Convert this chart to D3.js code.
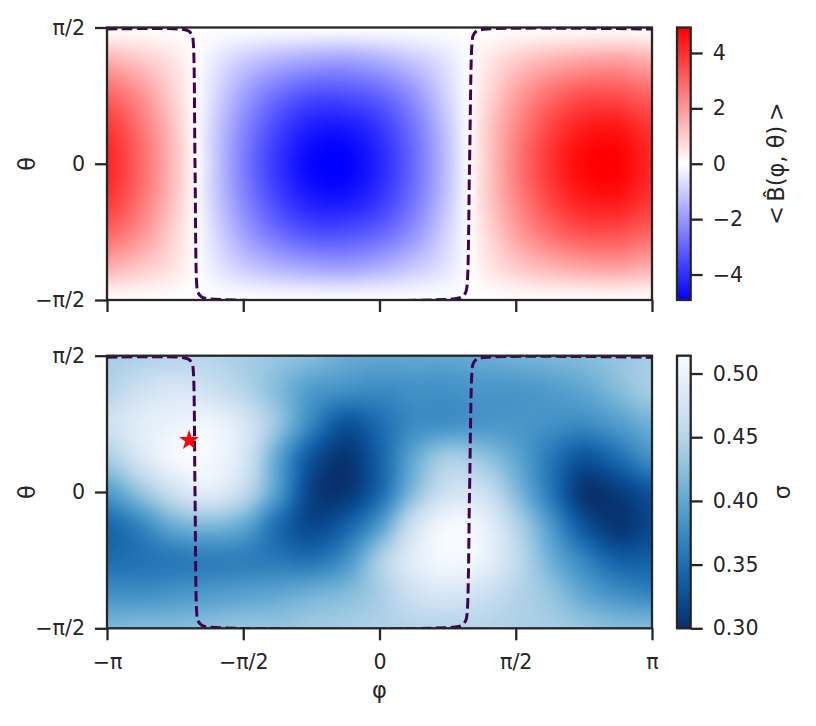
<!DOCTYPE html>
<html>
<head>
<meta charset="utf-8">
<script src="https://cdn.jsdelivr.net/npm/d3@7"></script>
<style>
  body { margin: 0; background: #fff; }
  svg text { font-family: "DejaVu Sans", sans-serif; fill: #262626; }
</style>
</head>
<body>
<script>
// grid of the two maps (degrees), columns = phi, rows = theta (top to bottom)
const phiDeg = [-180, -157.5, -135, -112.5, -90, -67.5, -45, -22.5, 0, 22.5, 45, 67.5, 90, 112.5, 135, 157.5, 180];
const thetaDeg = [90, 67.5, 45, 22.5, 0, -22.5, -45, -67.5, -90];

// <B(phi, theta)>
const bField = [
  [0.0, 0.0, 0.0, 0.0, 0.0, 0.0, 0.0, 0.0, 0.0, 0.0, 0.0, 0.0, 0.0, 0.0, 0.0, 0.0, 0.0],
  [1.6, 1.1, 0.5, -0.3, -1.0, -1.5, -1.8, -1.9, -1.6, -1.1, -0.5, 0.3, 1.0, 1.5, 1.8, 1.9, 1.6],
  [3.0, 2.1, 0.8, -0.5, -1.8, -2.8, -3.4, -3.4, -3.0, -2.1, -0.8, 0.5, 1.8, 2.8, 3.4, 3.4, 3.0],
  [3.9, 2.7, 1.1, -0.7, -2.3, -3.6, -4.4, -4.5, -3.9, -2.7, -1.1, 0.7, 2.3, 3.6, 4.4, 4.5, 3.9],
  [4.2, 2.9, 1.2, -0.7, -2.5, -3.9, -4.8, -4.9, -4.2, -2.9, -1.2, 0.7, 2.5, 3.9, 4.8, 4.9, 4.2],
  [3.9, 2.7, 1.1, -0.7, -2.3, -3.6, -4.4, -4.5, -3.9, -2.7, -1.1, 0.7, 2.3, 3.6, 4.4, 4.5, 3.9],
  [3.0, 2.1, 0.8, -0.5, -1.8, -2.8, -3.4, -3.4, -3.0, -2.1, -0.8, 0.5, 1.8, 2.8, 3.4, 3.4, 3.0],
  [1.6, 1.1, 0.5, -0.3, -1.0, -1.5, -1.8, -1.9, -1.6, -1.1, -0.5, 0.3, 1.0, 1.5, 1.8, 1.9, 1.6],
  [0.0, 0.0, 0.0, 0.0, 0.0, 0.0, 0.0, 0.0, 0.0, 0.0, 0.0, 0.0, 0.0, 0.0, 0.0, 0.0, 0.0]
];

// sigma
const sigmaField = [
  [0.44, 0.445, 0.45, 0.45, 0.44, 0.43, 0.42, 0.405, 0.40, 0.40, 0.40, 0.405, 0.41, 0.415, 0.42, 0.43, 0.44],
  [0.45, 0.47, 0.48, 0.47, 0.45, 0.42, 0.39, 0.38, 0.375, 0.38, 0.38, 0.385, 0.385, 0.39, 0.40, 0.42, 0.44],
  [0.47, 0.49, 0.50, 0.505, 0.48, 0.43, 0.37, 0.33, 0.35, 0.375, 0.38, 0.385, 0.385, 0.38, 0.375, 0.39, 0.41],
  [0.44, 0.48, 0.51, 0.51, 0.48, 0.40, 0.33, 0.305, 0.34, 0.40, 0.44, 0.43, 0.40, 0.36, 0.33, 0.35, 0.38],
  [0.39, 0.43, 0.47, 0.49, 0.46, 0.39, 0.315, 0.305, 0.345, 0.42, 0.47, 0.47, 0.42, 0.36, 0.305, 0.31, 0.33],
  [0.345, 0.37, 0.405, 0.415, 0.40, 0.35, 0.32, 0.34, 0.39, 0.47, 0.51, 0.50, 0.45, 0.39, 0.33, 0.305, 0.32],
  [0.35, 0.355, 0.36, 0.365, 0.365, 0.36, 0.355, 0.38, 0.44, 0.49, 0.51, 0.50, 0.46, 0.41, 0.37, 0.34, 0.34],
  [0.38, 0.38, 0.385, 0.39, 0.395, 0.40, 0.41, 0.42, 0.44, 0.47, 0.48, 0.47, 0.45, 0.43, 0.40, 0.38, 0.37],
  [0.415, 0.42, 0.42, 0.425, 0.43, 0.43, 0.435, 0.44, 0.445, 0.45, 0.45, 0.45, 0.445, 0.44, 0.43, 0.42, 0.42]
];

// zero contour of <B> (dashed), phi / theta in radians
const contourPhi = [-3.1416, -2.28, -2.20, -2.16, -2.147, -2.127, -2.107, -2.095, -2.05, -1.97,
  0.87, 0.95, 0.995, 1.01, 1.038, 1.067, 1.08, 1.12, 1.205, 3.1416];
const contourTheta = [1.553, 1.551, 1.53, 1.48, 1.40, 0, -1.40, -1.48, -1.535, -1.556,
  -1.556, -1.535, -1.48, -1.40, 0, 1.40, 1.48, 1.53, 1.551, 1.553];

const starPhi = -2.195;
const starTheta = 0.595;

const xTickVals = [-Math.PI, -Math.PI / 2, 0, Math.PI / 2, Math.PI];
const xTickLabels = ["−π", "−π/2", "0", "π/2", "π"];
const yTickVals = [-Math.PI / 2, 0, Math.PI / 2];
const yTickLabels = ["−π/2", "0", "π/2"];
const bTicks = [-4, -2, 0, 2, 4];
const sigmaTicks = [0.30, 0.35, 0.40, 0.45, 0.50];
const bLimit = 4.92;
const sigmaRange = [0.300, 0.514];

const W = 816, H = 726;
const left = 107, right = 652;
const panels = [
  { top: 27.5, bottom: 300, field: bField, label: "<\u2009B\u0302(φ, θ)\u2009>", labelX: 784,
    ticks: bTicks, fmt: d => d < 0 ? "−" + Math.abs(d) : "" + d,
    color: d3.scaleLinear().domain([-bLimit, 0, bLimit]).range(["#0000ff", "#ffffff", "#ff0000"]).clamp(true),
    domain: [-bLimit, bLimit], xLabels: false },
  { top: 355.7, bottom: 628.3, field: sigmaField, label: "σ", labelX: 790,
    ticks: sigmaTicks, fmt: d3.format(".2f"),
    color: d3.scaleSequential(t => d3.interpolateBlues(1 - t)).domain(sigmaRange).clamp(true),
    domain: sigmaRange, xLabels: true }
];

const rad = d => d * Math.PI / 180;
const phiRad = phiDeg.map(rad);
const thetaRad = thetaDeg.map(rad);

const svg = d3.select("body").append("svg")
  .attr("width", W).attr("height", H);

function cubic(p0, p1, p2, p3, t) {
  return p1 + 0.5 * t * (p2 - p0 + t * (2 * p0 - 5 * p1 + 4 * p2 - p3 + t * (3 * (p1 - p2) + p3 - p0)));
}

// bicubic lookup in a value grid, fc / fr are fractional column / row indices
function sample(field, fc, fr) {
  const nr = field.length, nc = field[0].length;
  const c = Math.min(Math.floor(fc), nc - 2), r = Math.min(Math.floor(fr), nr - 2);
  const tx = fc - c, ty = fr - r;
  const get = (i, j) => field[Math.max(0, Math.min(nr - 1, i))][Math.max(0, Math.min(nc - 1, j))];
  const rows = [-1, 0, 1, 2].map(dr =>
    cubic(get(r + dr, c - 1), get(r + dr, c), get(r + dr, c + 1), get(r + dr, c + 2), tx));
  return cubic(rows[0], rows[1], rows[2], rows[3], ty);
}

panels.forEach((p, k) => {
  const pw = right - left, ph = p.bottom - p.top;
  const x = d3.scaleLinear().domain([-Math.PI, Math.PI]).range([0, pw]);
  const y = d3.scaleLinear().domain([-Math.PI / 2, Math.PI / 2]).range([ph, 0]);
  const col = d3.scaleLinear().domain(d3.extent(phiRad)).range([0, phiRad.length - 1]);
  const row = d3.scaleLinear().domain([thetaRad[0], thetaRad[thetaRad.length - 1]]).range([0, thetaRad.length - 1]);

  const g = svg.append("g").attr("transform", `translate(${left},${p.top})`);

  // heat map
  const cw = Math.round(pw), chh = Math.round(ph);
  const canvas = document.createElement("canvas");
  canvas.width = cw; canvas.height = chh;
  const ctx = canvas.getContext("2d");
  const img = ctx.createImageData(cw, chh);
  for (let py = 0; py < chh; py++) {
    const fr = row(y.invert((py + 0.5) * ph / chh));
    for (let px = 0; px < cw; px++) {
      const fc = col(x.invert((px + 0.5) * pw / cw));
      const c = d3.rgb(p.color(sample(p.field, fc, fr)));
      const o = 4 * (py * cw + px);
      img.data[o] = c.r; img.data[o + 1] = c.g; img.data[o + 2] = c.b; img.data[o + 3] = 255;
    }
  }
  ctx.putImageData(img, 0, 0);
  g.append("image")
    .attr("width", pw).attr("height", ph)
    .attr("preserveAspectRatio", "none")
    .attr("href", canvas.toDataURL());

  // dashed contour
  g.append("clipPath").attr("id", "clip" + k)
    .append("rect").attr("width", pw).attr("height", ph);
  const line = d3.line().x(d => x(d[0])).y(d => y(d[1])).curve(d3.curveCatmullRom);
  g.append("path")
    .datum(contourPhi.map((v, i) => [v, contourTheta[i]]))
    .attr("clip-path", `url(#clip${k})`)
    .attr("d", line)
    .attr("fill", "none")
    .attr("stroke", "#440154")
    .attr("stroke-width", 3)
    .attr("stroke-dasharray", "10.5,4.5");

  if (k === 1) {
    g.append("path")
      .attr("transform", `translate(${x(starPhi)},${y(starTheta)})`)
      .attr("d", d3.symbol(d3.symbolStar, 125))
      .attr("fill", "#ff0000");
  }

  // axes
  const xAxis = d3.axisBottom(x).tickValues(xTickVals).tickSize(12).tickPadding(14)
    .tickFormat((d, i) => p.xLabels ? xTickLabels[i] : "");
  const yAxis = d3.axisLeft(y).tickValues(yTickVals).tickSize(12).tickPadding(10)
    .tickFormat((d, i) => yTickLabels[i]);
  [g.append("g").attr("transform", `translate(0,${ph})`).call(xAxis),
   g.append("g").call(yAxis)].forEach(a => {
    a.select(".domain").remove();
    a.selectAll(".tick line").attr("stroke", "#262626").attr("stroke-width", 2.3);
    a.selectAll(".tick text").attr("font-size", 20.6).attr("fill", "#262626")
      .attr("font-family", "DejaVu Sans, sans-serif");
  });

  g.append("rect").attr("width", pw).attr("height", ph)
    .attr("fill", "none").attr("stroke", "#262626").attr("stroke-width", 2.3);

  g.append("text")
    .attr("transform", `translate(${35 - left},${ph / 2}) rotate(-90)`)
    .attr("text-anchor", "middle")
    .attr("font-size", 22.5)
    .text("θ");

  // colorbar
  const cbx = 677, cbw = 13.7;
  const cy = d3.scaleLinear().domain(p.domain).range([ph, 0]);
  const grad = svg.append("defs").append("linearGradient")
    .attr("id", "grad" + k).attr("x1", 0).attr("y1", 1).attr("x2", 0).attr("y2", 0);
  d3.range(0, 1.0001, 0.02).forEach(t => {
    grad.append("stop").attr("offset", t)
      .attr("stop-color", p.color(p.domain[0] + t * (p.domain[1] - p.domain[0])));
  });
  const cb = svg.append("g").attr("transform", `translate(${cbx},${p.top})`);
  cb.append("rect").attr("width", cbw).attr("height", ph).attr("fill", `url(#grad${k})`);
  const cAxis = cb.append("g").attr("transform", `translate(${cbw},0)`)
    .call(d3.axisRight(cy).tickValues(p.ticks).tickSize(12).tickPadding(10).tickFormat(p.fmt));
  cAxis.select(".domain").remove();
  cAxis.selectAll(".tick line").attr("stroke", "#262626").attr("stroke-width", 2.3);
  cAxis.selectAll(".tick text").attr("font-size", 20.6).attr("fill", "#262626")
    .attr("font-family", "DejaVu Sans, sans-serif");
  cb.append("rect").attr("width", cbw).attr("height", ph)
    .attr("fill", "none").attr("stroke", "#262626").attr("stroke-width", 2.3);
  svg.append("text")
    .attr("transform", `translate(${p.labelX},${p.top + ph / 2}) rotate(-90)`)
    .attr("text-anchor", "middle")
    .attr("font-size", 22.5)
    .text(p.label);
});

svg.append("text")
  .attr("x", (left + right) / 2).attr("y", 698)
  .attr("text-anchor", "middle")
  .attr("font-size", 22.5)
  .text("φ");
</script>
</body>
</html>
